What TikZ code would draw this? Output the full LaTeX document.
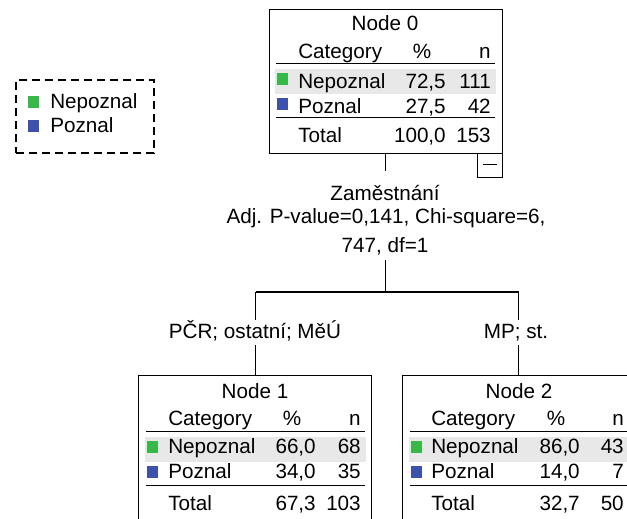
\documentclass[tikz,border=0pt]{standalone}
\usepackage{fontspec}
\setmainfont{Liberation Sans}
\definecolor{catgreen}{RGB}{56,184,72}
\definecolor{catblue}{RGB}{62,82,172}
\definecolor{rowgray}{RGB}{232,232,232}
\begin{document}
\begin{tikzpicture}[x=0.75pt,y=-0.75pt,
  every node/.style={font=\fontsize{15.5}{18}\selectfont},
  treebox/.style={draw,line width=0.8pt,minimum width=233*0.75pt,minimum height=144*0.75pt,anchor=north west,inner sep=0pt},
  lbl/.style={inner sep=0pt,anchor=base},
  lbll/.style={inner sep=0pt,anchor=base west},
  lblr/.style={inner sep=0pt,anchor=base east},
  sq/.style={minimum width=11*0.75pt,minimum height=12*0.75pt,inner sep=0pt,anchor=north west},
  conn/.style={line width=0.8pt},
  rule/.style={line width=0.9pt}]
\useasboundingbox (0,0) rectangle (627,518);
\clip (0,0) rectangle (627,518);

% ---------- legend
\node[draw,dashed,dash pattern=on 8*0.75pt off 5*0.75pt,line width=1.3pt,minimum width=138*0.75pt,minimum height=73*0.75pt,anchor=north west,inner sep=0pt] (legend) at (15,79) {};
\node[sq,fill=catgreen] (lg1) at (28,96) {};
\node[sq,fill=catblue] (lg2) at (28,120) {};
\node[lbll] (lgt1) at (50,108) {Nepoznal};
\node[lbll] (lgt2) at (50,132) {Poznal};

% ---------- Node 0
\node[treebox] (n0) at (269,9) {};
\fill[rowgray] (275,69) rectangle (496,94);
\node[lbl] (n0t) at (385,30) {Node 0};
\node[lbll] (n0c) at (298,58) {Category};
\node[lbl] (n0p) at (422,58) {\%};
\node[lblr] (n0n) at (491,58) {n};
\draw[rule] (276,63.5) -- (495,63.5);
\node[sq,fill=catgreen] (n0g) at (277,73) {};
\node[lbll] (n0r1) at (298,88) {Nepoznal};
\node[lblr] (n0r1p) at (446,88) {72,5};
\node[lblr] (n0r1n) at (491,88) {111};
\node[sq,fill=catblue] (n0b) at (277,98) {};
\node[lbll] (n0r2) at (298,113) {Poznal};
\node[lblr] (n0r2p) at (446,113) {27,5};
\node[lblr] (n0r2n) at (491,113) {42};
\draw[rule] (276,117.5) -- (495,117.5);
\node[lbll] (n0r3) at (298,142) {Total};
\node[lblr] (n0r3p) at (446,142) {100,0};
\node[lblr] (n0r3n) at (491,142) {153};
\node[draw,line width=0.8pt,minimum width=25*0.75pt,minimum height=24*0.75pt,anchor=north west,inner sep=0pt] (mb) at (477,153) {};
\draw[line width=0.9pt] (483,164.5) -- (497,164.5);

% ---------- split
\node[lbl] (sp1) at (385,200) {Zaměstnání};
\node[lbl] (sp2) at (386,223) {Adj. P-value=0,141, Chi-square=6,};
\node[lbl] (sp3) at (385,252) {747, df=1};
\coordinate (sp1top) at (385.5,171);
\coordinate (sp3bot) at (385.5,260);
\coordinate (j) at (385.5,292);
\coordinate (jl) at (255.5,292);
\coordinate (jr) at (518.5,292);
\draw[conn] (n0.south -| sp1top) -- (sp1top);
\draw[conn] (sp3bot) -- (j);
\draw[conn] (jl) -- (jr);

% ---------- branch labels
\node[lbl] (lab1) at (255,338) {PČR; ostatní; MěÚ};
\node[lbl] (lab2) at (516,338) {MP; st.};
\coordinate (l1top) at (255.5,320);
\coordinate (l2top) at (518.5,320);
\coordinate (l1bot) at (255.5,345);
\coordinate (l2bot) at (518.5,345);
\draw[conn] (jl) -- (l1top);
\draw[conn] (jr) -- (l2top);

% ---------- Node 1
\node[treebox,minimum height=160*0.75pt] (n1) at (138,375) {};
\draw[conn] (l1bot) -- (n1.north -| l1bot);
\fill[rowgray] (145,437) rectangle (366,462);
\node[lbl] (n1t) at (255,398) {Node 1};
\node[lbll] (n1c) at (168,425) {Category};
\node[lbl] (n1p) at (292,425) {\%};
\node[lblr] (n1n) at (361,425) {n};
\draw[rule] (146,431.5) -- (365,431.5);
\node[sq,fill=catgreen] (n1g) at (147,441) {};
\node[lbll] (n1r1) at (168,453) {Nepoznal};
\node[lblr] (n1r1p) at (316,453) {66,0};
\node[lblr] (n1r1n) at (361,453) {68};
\node[sq,fill=catblue] (n1b) at (147,466) {};
\node[lbll] (n1r2) at (168,478) {Poznal};
\node[lblr] (n1r2p) at (316,478) {34,0};
\node[lblr] (n1r2n) at (361,478) {35};
\draw[rule] (146,485.5) -- (365,485.5);
\node[lbll] (n1r3) at (168,510) {Total};
\node[lblr] (n1r3p) at (316,510) {67,3};
\node[lblr] (n1r3n) at (361,510) {103};

% ---------- Node 2
\node[treebox,minimum height=160*0.75pt] (n2) at (402,375) {};
\draw[conn] (l2bot) -- (n2.north -| l2bot);
\fill[rowgray] (409,437) rectangle (630,462);
\node[lbl] (n2t) at (519,398) {Node 2};
\node[lbll] (n2c) at (431,425) {Category};
\node[lbl] (n2p) at (556,425) {\%};
\node[lblr] (n2n) at (624,425) {n};
\draw[rule] (410,431.5) -- (629,431.5);
\node[sq,fill=catgreen] (n2g) at (411,441) {};
\node[lbll] (n2r1) at (431,453) {Nepoznal};
\node[lblr] (n2r1p) at (580,453) {86,0};
\node[lblr] (n2r1n) at (624,453) {43};
\node[sq,fill=catblue] (n2b) at (411,466) {};
\node[lbll] (n2r2) at (431,478) {Poznal};
\node[lblr] (n2r2p) at (580,478) {14,0};
\node[lblr] (n2r2n) at (624,478) {7};
\draw[rule] (410,485.5) -- (629,485.5);
\node[lbll] (n2r3) at (431,510) {Total};
\node[lblr] (n2r3p) at (580,510) {32,7};
\node[lblr] (n2r3n) at (624,510) {50};
\end{tikzpicture}
\end{document}
